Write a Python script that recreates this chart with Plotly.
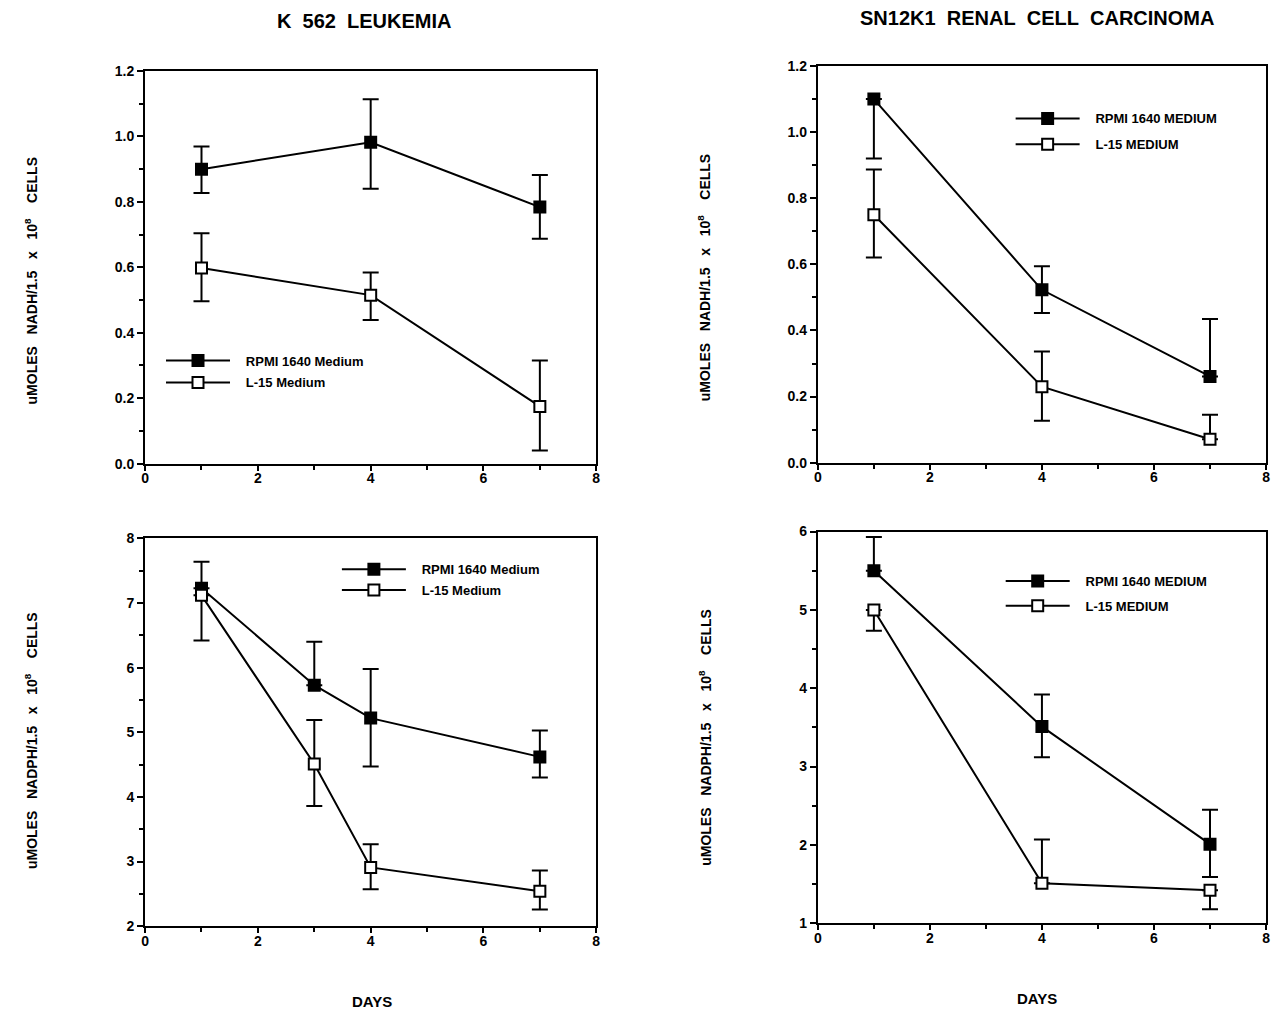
import plotly.graph_objects as go

W, H = 1273, 1009

# ---------------- data ----------------
# Panel A: K 562 leukemia, NADH
a_days = [1, 4, 7]
a_rpmi = [0.90, 0.982, 0.784]
a_rpmi_up = [0.069, 0.132, 0.098]
a_rpmi_dn = [0.073, 0.142, 0.097]
a_l15 = [0.598, 0.515, 0.175]
a_l15_up = [0.106, 0.069, 0.140]
a_l15_dn = [0.102, 0.076, 0.135]

# Panel B: SN12K1 renal cell carcinoma, NADH
b_days = [1, 4, 7]
b_rpmi = [1.10, 0.523, 0.261]
b_rpmi_up = [0.0, 0.071, 0.174]
b_rpmi_dn = [0.18, 0.070, 0.0]
b_l15 = [0.75, 0.23, 0.071]
b_l15_up = [0.137, 0.106, 0.074]
b_l15_dn = [0.129, 0.103, 0.0]

# Panel C: K 562 leukemia, NADPH
c_days = [1, 3, 4, 7]
c_rpmi = [7.23, 5.73, 5.22, 4.62]
c_rpmi_up = [0.41, 0.67, 0.76, 0.41]
c_rpmi_dn = [0.0, 0.0, 0.75, 0.32]
c_l15 = [7.12, 4.51, 2.91, 2.54]
c_l15_up = [0.0, 0.68, 0.36, 0.32]
c_l15_dn = [0.70, 0.65, 0.34, 0.28]

# Panel D: SN12K1 renal cell carcinoma, NADPH
d_days = [1, 4, 7]
d_rpmi = [5.50, 3.51, 2.01]
d_rpmi_up = [0.43, 0.41, 0.44]
d_rpmi_dn = [0.0, 0.39, 0.42]
d_l15 = [5.0, 1.51, 1.42]
d_l15_up = [0.0, 0.56, 0.0]
d_l15_dn = [0.265, 0.0, 0.24]

titles = ["K\u00a0\u00a0562\u00a0\u00a0LEUKEMIA",
          "SN12K1\u00a0\u00a0RENAL\u00a0\u00a0CELL\u00a0\u00a0CARCINOMA"]
names_mixed = ["RPMI 1640 Medium", "L-15 Medium"]
names_upper = ["RPMI 1640 MEDIUM", "L-15 MEDIUM"]

# ---------------- layout helpers ----------------
def px_x(v):
    return v / W

def px_y(v):
    return 1 - v / H

panels = [
    dict(xa="x", ya="y", xd=(142, 596), yd=(64, 463), yr=[0, 1.2], dt=0.2, mn=0.1, fmt=".1f"),
    dict(xa="x2", ya="y2", xd=(819, 1270), yd=(59, 462), yr=[0, 1.2], dt=0.2, mn=0.1, fmt=".1f"),
    dict(xa="x3", ya="y3", xd=(142, 596), yd=(539, 933), yr=[2, 8], dt=1, mn=0.5, fmt="d"),
    dict(xa="x4", ya="y4", xd=(819, 1270), yd=(532, 930), yr=[1, 6], dt=1, mn=0.5, fmt="d"),
]

data_sets = [
    (a_days, a_rpmi, a_rpmi_up, a_rpmi_dn, a_l15, a_l15_up, a_l15_dn, names_mixed),
    (b_days, b_rpmi, b_rpmi_up, b_rpmi_dn, b_l15, b_l15_up, b_l15_dn, names_upper),
    (c_days, c_rpmi, c_rpmi_up, c_rpmi_dn, c_l15, c_l15_up, c_l15_dn, names_mixed),
    (d_days, d_rpmi, d_rpmi_up, d_rpmi_dn, d_l15, d_l15_up, d_l15_dn, names_upper),
]

legend_pos = [
    (158, 343, 2),
    (1013, 97, 6),
    (335, 555, 1),
    (1003, 567, 5),
]

fig = go.Figure()

for i, (p, ds) in enumerate(zip(panels, data_sets)):
    days, rp, rpu, rpd, lf, lfu, lfd, nm = ds
    leg = "legend" if i == 0 else f"legend{i+1}"
    for j, (yy, up, dn, fill) in enumerate([(rp, rpu, rpd, "black"), (lf, lfu, lfd, "white")]):
        fig.add_trace(go.Scatter(
            x=days, y=yy, xaxis=p["xa"], yaxis=p["ya"],
            mode="lines+markers",
            name="\u00a0\u00a0\u00a0" + nm[j],
            legend=leg,
            legendgroup=f"g{i}{j}",
            line=dict(color="black", width=2),
            marker=dict(symbol="square", size=11, color=fill,
                        line=dict(color="black", width=2)),
            error_y=dict(type="data", symmetric=False, array=up, arrayminus=dn,
                         color="black", thickness=2, width=8),
            cliponaxis=False,
        ))

layout = dict(
    width=W, height=H,
    margin=dict(l=0, r=0, t=0, b=0),
    paper_bgcolor="white", plot_bgcolor="white",
    showlegend=True,
    font=dict(family="Arial", color="black"),
)

for i, p in enumerate(panels):
    xk = "xaxis" if i == 0 else f"xaxis{i+1}"
    yk = "yaxis" if i == 0 else f"yaxis{i+1}"
    layout[xk] = dict(
        domain=[px_x(p["xd"][0]), px_x(p["xd"][1])],
        anchor=p["ya"], range=[0, 8], dtick=2, tick0=0,
        showgrid=False, zeroline=False,
        showline=True, linecolor="black", linewidth=2, mirror=True,
        ticks="outside", ticklen=5, tickwidth=2, tickcolor="black",
        ticklabelstandoff=-4,
        minor=dict(dtick=1, ticks="outside", ticklen=4, tickwidth=1.5, tickcolor="black"),
        tickfont=dict(size=14, family="Arial", weight="bold"),
        fixedrange=True,
    )
    layout[yk] = dict(
        domain=[px_y(p["yd"][1]), px_y(p["yd"][0])],
        anchor=p["xa"], range=p["yr"], dtick=p["dt"], tick0=p["yr"][0],
        tickformat=p["fmt"],
        showgrid=False, zeroline=False,
        showline=True, linecolor="black", linewidth=2, mirror=True,
        ticks="outside", ticklen=6, tickwidth=2, tickcolor="black",
        minor=dict(dtick=p["mn"], ticks="outside", ticklen=4, tickwidth=1.5, tickcolor="black"),
        tickfont=dict(size=14, family="Arial", weight="bold"),
        fixedrange=True,
    )
    lk = "legend" if i == 0 else f"legend{i+1}"
    lx, ly, gap = legend_pos[i]
    layout[lk] = dict(
        x=px_x(lx), y=px_y(ly), xref="paper", yref="paper",
        xanchor="left", yanchor="top",
        bgcolor="rgba(0,0,0,0)", borderwidth=0,
        font=dict(size=13, family="Arial", weight="bold"),
        itemwidth=64, traceorder="grouped", tracegroupgap=gap,
        itemclick=False, itemdoubleclick=False,
    )

fig.update_layout(**layout)

sp = "\u00a0\u00a0\u00a0"
ytitle_nadh = f"uMOLES{sp}NADH/1.5{sp}x{sp}10<sup>8</sup>{sp}\u00a0CELLS"
ytitle_nadph = f"uMOLES{sp}NADPH/1.5{sp}x{sp}10<sup>8</sup>{sp}\u00a0CELLS"

annotations = [
    dict(text=titles[0], x=px_x(362), y=px_y(13)),
    dict(text=titles[1], x=px_x(1040), y=px_y(10)),
]
for a in annotations:
    a.update(xref="paper", yref="paper", showarrow=False, xanchor="center", yanchor="middle",
             font=dict(size=20, family="Arial", weight="bold"))

for (txt, x, y) in [("DAYS", 370, 1009), ("DAYS", 1040, 1006)]:
    annotations.append(dict(text=txt, x=px_x(x), y=px_y(y), xref="paper", yref="paper",
                            xanchor="center", yanchor="middle",
                            showarrow=False, font=dict(size=15, family="Arial", weight="bold")))

for (txt, x, y) in [(ytitle_nadh, 27, 277), (ytitle_nadh, 704, 274),
                    (ytitle_nadph, 27, 744), (ytitle_nadph, 706, 741)]:
    annotations.append(dict(text=txt, x=px_x(x), y=px_y(y), xref="paper", yref="paper",
                            xanchor="center", yanchor="middle",
                            showarrow=False, textangle=-90,
                            font=dict(size=14, family="Arial", weight="bold")))

fig.update_layout(annotations=annotations)

fig.write_html("out.html")
